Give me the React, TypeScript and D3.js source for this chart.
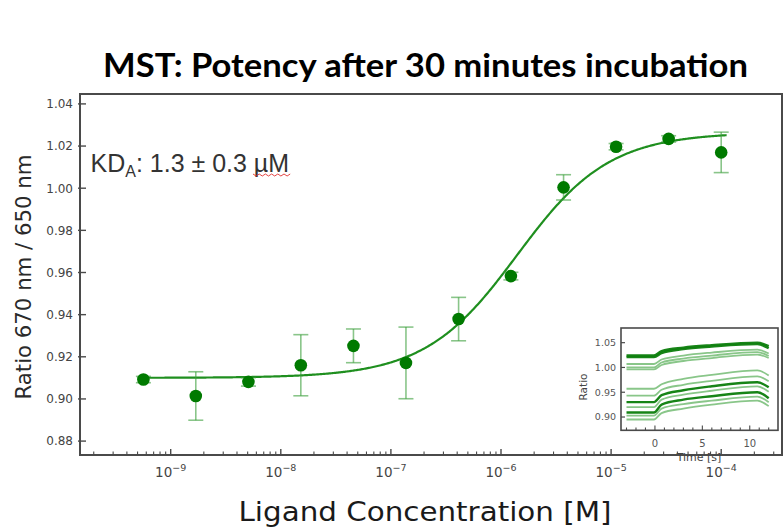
import React from "react";
import * as d3 from "d3";

// ---- Main binding-curve data (ligand concentration in M, ratio, error) ----
const concentrations = [5.65e-10, 1.69e-9, 5.08e-9, 1.52e-8, 4.57e-8, 1.37e-7, 4.12e-7, 1.23e-6, 3.7e-6, 1.11e-5, 3.33e-5, 1.0e-4];
const ratios = [0.9092, 0.9014, 0.9081, 0.916, 0.9252, 0.9171, 0.9379, 0.9583, 1.0004, 1.0197, 1.0234, 1.017];
const errors = [0.0015, 0.0115, 0.002, 0.0145, 0.008, 0.017, 0.0103, 0.0018, 0.006, 0.0015, 0.0015, 0.0096];

// fit parameters (KD model)
const fitKD = 1.3e-6;
const fitTarget = 0.2e-6;
const fitUnbound = 0.91;
const fitBound = 1.0265;
const fitRange = [5.0e-10, 1.12e-4];

const yTicks = [0.88, 0.9, 0.92, 0.94, 0.96, 0.98, 1.0, 1.02, 1.04];
const xDecades = [-9, -8, -7, -6, -5, -4];

// ---- Inset: MST traces (time in s, ratio) ----
const traceTimes = [-3.0, -0.1, 0.7, 3, 6, 10.8, 12.0];
const traceDark = [true, true, false, false, false, false, false, true, false, true, false, false];
const traceValues = [
  [1.024, 1.024, 1.033, 1.04, 1.045, 1.05, 1.043],
  [1.021, 1.021, 1.029, 1.037, 1.042, 1.047, 1.039],
  [1.007, 1.007, 1.016, 1.024, 1.03, 1.036, 1.028],
  [1.0, 1.0, 1.01, 1.018, 1.024, 1.031, 1.023],
  [0.996, 0.996, 1.005, 1.013, 1.019, 1.026, 1.019],
  [0.957, 0.957, 0.966, 0.977, 0.985, 0.994, 0.984],
  [0.943, 0.943, 0.955, 0.965, 0.973, 0.982, 0.972],
  [0.93, 0.93, 0.944, 0.954, 0.962, 0.97, 0.96],
  [0.92, 0.92, 0.935, 0.945, 0.953, 0.962, 0.951],
  [0.909, 0.909, 0.925, 0.935, 0.942, 0.95, 0.938],
  [0.903, 0.903, 0.917, 0.926, 0.933, 0.941, 0.93],
  [0.895, 0.895, 0.908, 0.917, 0.925, 0.933, 0.922],
];
const insetYTicks = [0.9, 0.95, 1.0, 1.05];
const insetXLabels = [0, 5, 10];
const insetXMinor = [-3, -2, -1, 0, 1, 2, 3, 4, 5, 6, 7, 8, 9, 10, 11, 12];

const W = 784;
const H = 527;
const L = 80, R = 782, T = 94, B = 455;

function fitValue(c: number) {
  const s = c + fitTarget + fitKD;
  const f = (s - Math.sqrt(s * s - 4 * c * fitTarget)) / (2 * fitTarget);
  return fitUnbound + (fitBound - fitUnbound) * f;
}

export default function App() {
  const x = d3.scaleLog().domain([Math.pow(10, -9.8238), Math.pow(10, -3.4478)]).range([L, R]);
  const y = d3.scaleLinear().domain([0.8734, 1.0447]).range([B, T]);

  const logs = d3.range(Math.log10(fitRange[0]), Math.log10(fitRange[1]), 0.01);
  const curve = d3
    .line<number>()
    .x((l) => x(Math.pow(10, l)))
    .y((l) => y(fitValue(Math.pow(10, l))))(logs);

  const minor: number[] = [];
  for (let k = -10; k <= -4; k++) {
    for (let m = 2; m <= 9; m++) {
      const v = m * Math.pow(10, k);
      if (x(v) > L + 1 && x(v) < R - 1) minor.push(v);
    }
  }

  const ix = d3.scaleLinear().domain([-3.58, 12.98]).range([621, 778]);
  const iy = d3.scaleLinear().domain([0.8732, 1.0796]).range([430.3, 328]);
  const traceLine = d3
    .line<number>()
    .x((_, i) => ix(traceTimes[i]))
    .y((v) => iy(v))
    .curve(d3.curveMonotoneX);

  const tickFont = "DejaVu Sans, sans-serif";

  return (
    <svg width={W} height={H} style={{ position: "absolute", left: 0, top: 0, background: "#fff" }}>
      {/* Title */}
      <text
        x={425.5}
        y={77}
        textAnchor="middle"
        fontFamily="Lato, 'Open Sans', sans-serif"
        fontWeight={700}
        fontSize={32}
        textLength={645}
        lengthAdjust="spacingAndGlyphs"
        fill="#000"
      >
        MST: Potency after 30 minutes incubation
      </text>

      {/* frame */}
      <rect x={L} y={T} width={R - L} height={B - T} fill="none" stroke="#4a4a4a" strokeWidth={2} />

      {/* y ticks */}
      {yTicks.map((t) => (
        <g key={"y" + t}>
          <line x1={L - 2} x2={L + 6} y1={y(t)} y2={y(t)} stroke="#4a4a4a" strokeWidth={1.4} />
          <text x={73} y={y(t)} dy="0.36em" textAnchor="end" fontFamily={tickFont} fontSize={12} fill="#444">
            {t.toFixed(2)}
          </text>
        </g>
      ))}

      {/* x ticks */}
      {minor.map((v, i) => (
        <line key={"mx" + i} x1={x(v)} x2={x(v)} y1={B} y2={B - 3.5} stroke="#4a4a4a" strokeWidth={1.1} />
      ))}
      {xDecades.map((k) => {
        const px = x(Math.pow(10, k));
        return (
          <g key={"x" + k}>
            <line x1={px} x2={px} y1={B} y2={B - 6} stroke="#4a4a4a" strokeWidth={1.4} />
            <text x={px} y={477} textAnchor="middle" fontFamily={tickFont} fontSize={13.5} fill="#444">
              10
              <tspan fontSize={9.5} dy={-6.5}>
                {"\u2212" + Math.abs(k)}
              </tspan>
            </text>
          </g>
        );
      })}

      {/* axis labels */}
      <text
        x={425}
        y={521}
        textAnchor="middle"
        fontFamily={tickFont}
        fontSize={27}
        textLength={373}
        lengthAdjust="spacingAndGlyphs"
        fill="#1a1a1a"
      >
        Ligand Concentration [M]
      </text>
      <text
        transform="translate(31,277) rotate(-90)"
        textAnchor="middle"
        fontFamily={tickFont}
        fontSize={22}
        textLength={245}
        lengthAdjust="spacingAndGlyphs"
        fill="#2a2a2a"
      >
        Ratio 670 nm / 650 nm
      </text>

      {/* KD annotation */}
      <text x={90.5} y={171.5} fontFamily="'Liberation Sans', Arial, sans-serif" fontSize={25} fill="#333">
        KD
        <tspan fontSize={16} dy={5}>
          A
        </tspan>
        <tspan dy={-5}>: 1.3 ± 0.3 µM</tspan>
      </text>
      <path
        d={d3.range(0, 13).map((i) => `${i === 0 ? "M" : "L"}${253 + i * 3.1},${i % 2 === 0 ? 174 : 176}`).join(" ")}
        fill="none"
        stroke="#e03030"
        strokeWidth={0.9}
      />

      {/* fit curve */}
      <path d={curve || ""} fill="none" stroke="#1f8f1f" strokeWidth={2.2} />

      {/* error bars */}
      {concentrations.map((c, i) => {
        const px = x(c);
        const y1 = y(ratios[i] + errors[i]);
        const y2 = y(ratios[i] - errors[i]);
        return (
          <g key={"e" + i} stroke="#3a9f3a" strokeOpacity={0.6} strokeWidth={1.6}>
            <line x1={px} x2={px} y1={y1} y2={y2} />
            <line x1={px - 7.5} x2={px + 7.5} y1={y1} y2={y1} />
            <line x1={px - 7.5} x2={px + 7.5} y1={y2} y2={y2} />
          </g>
        );
      })}

      {/* markers */}
      {concentrations.map((c, i) => (
        <circle key={"p" + i} cx={x(c)} cy={y(ratios[i])} r={6.3} fill="#007a00" />
      ))}

      {/* inset */}
      <g>
        <rect x={621} y={328} width={157} height={102.3} fill="#fff" stroke="#4a4a4a" strokeWidth={1.6} />
        {traceValues.map((vals, i) => (
          <path
            key={"tr" + i}
            d={traceLine(vals) || ""}
            fill="none"
            stroke={traceDark[i] ? "#0b7d0b" : "#3aa03a"}
            strokeOpacity={traceDark[i] ? 0.95 : 0.6}
            strokeWidth={traceDark[i] ? 2.4 : 1.8}
          />
        ))}
        {insetYTicks.map((t) => (
          <g key={"iy" + t}>
            <line x1={621} x2={625} y1={iy(t)} y2={iy(t)} stroke="#4a4a4a" strokeWidth={1.2} />
            <text x={616} y={iy(t)} dy="0.35em" textAnchor="end" fontFamily={tickFont} fontSize={9.5} fill="#555">
              {t.toFixed(2)}
            </text>
          </g>
        ))}
        {insetXMinor.map((t) => (
          <line
            key={"ixm" + t}
            x1={ix(t)}
            x2={ix(t)}
            y1={430.3}
            y2={insetXLabels.includes(t) ? 425.5 : 427.5}
            stroke="#4a4a4a"
            strokeWidth={1.1}
          />
        ))}
        {insetXLabels.map((t) => (
          <text key={"ixl" + t} x={ix(t)} y={447} textAnchor="middle" fontFamily={tickFont} fontSize={10} fill="#555">
            {t}
          </text>
        ))}
        <text
          transform="translate(587,387) rotate(-90)"
          textAnchor="middle"
          fontFamily={tickFont}
          fontSize={10.5}
          fill="#444"
        >
          Ratio
        </text>
        <text x={699} y={461} textAnchor="middle" fontFamily={tickFont} fontSize={11} fill="#444">
          Time [s]
        </text>
      </g>
    </svg>
  );
}
